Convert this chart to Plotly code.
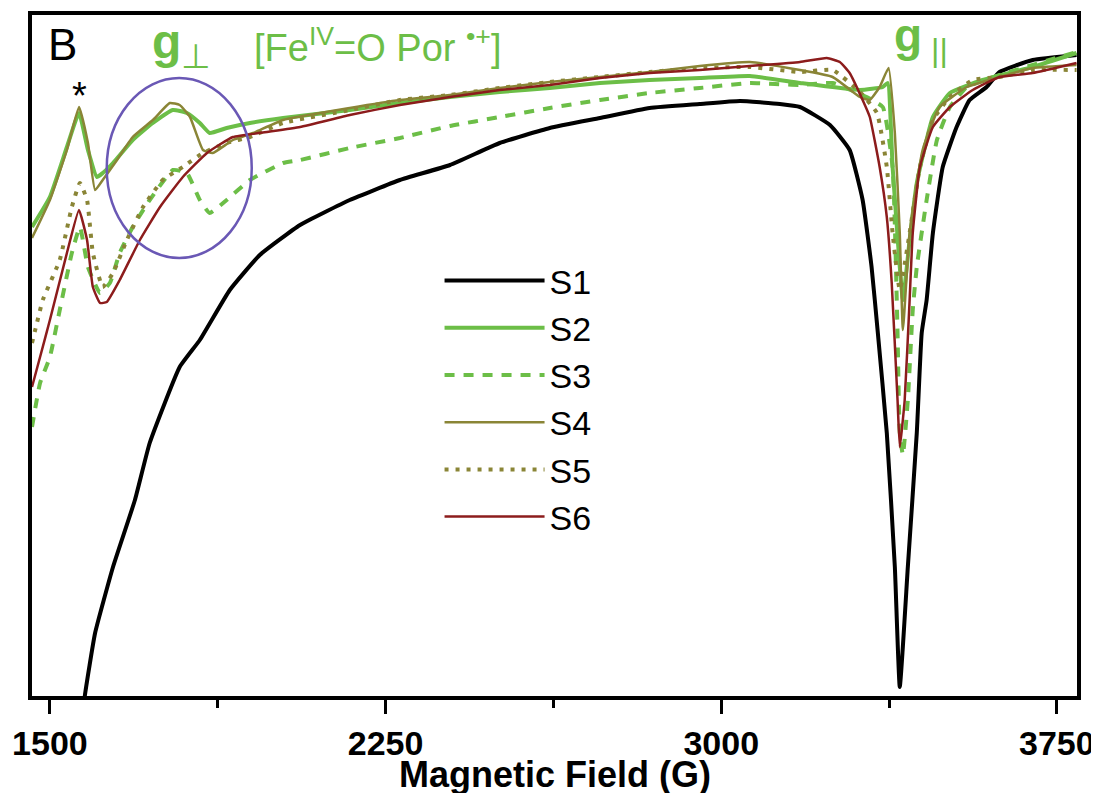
import plotly.graph_objects as go

# ---------------- data (Field in G, signal in arbitrary units) ----------------
s1_field = [1574, 1578, 1601, 1641, 1690, 1723, 1790, 1835, 1902, 1969, 2059, 2170, 2282, 2394,
            2505, 2617, 2729, 2840, 2952, 3042, 3131, 3176, 3243, 3287, 3316, 3336, 3350, 3370,
            3388, 3399, 3417, 3437, 3448, 3459, 3473, 3495, 3526, 3555, 3593, 3622, 3696, 3794]
s1_signal = [-20, 0, 63, 129, 196, 253, 329, 356, 406, 441, 471, 496, 516, 531,
             553, 568, 578, 588, 592, 595, 592, 589, 571, 546, 496, 429, 363, 263,
             129, 9, 129, 263, 363, 396, 463, 529, 569, 596, 609, 624, 636, 641]

s2_field = [1460, 1500, 1538, 1565, 1585, 1605, 1618, 1641, 1685, 1730, 1775, 1806, 1835, 1857,
            1895, 1947, 2021, 2170, 2282, 2394, 2505, 2617, 2729, 2840, 2952, 3064, 3176, 3310,
            3361, 3372, 3383, 3399, 3406, 3421, 3437, 3473, 3511, 3584, 3696, 3794]
s2_signal = [469, 499, 549, 583, 546, 519, 523, 533, 556, 573, 586, 583, 573, 563,
             568, 573, 578, 586, 593, 599, 604, 608, 613, 616, 618, 620, 613, 606,
             609, 613, 529, 429, 396, 456, 513, 579, 603, 616, 629, 643]

s3_field = [1460, 1478, 1500, 1522, 1549, 1567, 1585, 1612, 1634, 1656, 1685, 1723, 1775, 1806,
            1835, 1857, 1895, 1947, 2021, 2059, 2170, 2282, 2394, 2505, 2617, 2729, 2840, 2952,
            3064, 3176, 3249, 3325, 3361, 3383, 3394, 3399, 3406, 3417, 3428, 3437, 3459, 3482,
            3511, 3549, 3622, 3794]
s3_signal = [269, 313, 339, 386, 443, 469, 429, 403, 413, 443, 469, 496, 526, 523,
             496, 483, 496, 516, 533, 536, 548, 558, 570, 579, 588, 596, 603, 608,
             613, 611, 613, 599, 589, 529, 363, 263, 241, 296, 386, 429, 496, 556,
             589, 609, 621, 644]

s4_field = [1460, 1500, 1538, 1565, 1585, 1601, 1618, 1650, 1685, 1730, 1768, 1790, 1813, 1842,
            1864, 1909, 1954, 2021, 2170, 2282, 2394, 2505, 2617, 2729, 2840, 2952, 3064, 3176,
            3249, 3310, 3332, 3354, 3374, 3388, 3399, 3406, 3421, 3450, 3488, 3549, 3622, 3696, 3794]
s4_signal = [458, 496, 546, 589, 553, 506, 516, 536, 559, 576, 593, 591, 579, 546,
             543, 556, 563, 576, 588, 596, 601, 608, 614, 619, 624, 630, 634, 626,
             619, 599, 596, 609, 628, 563, 463, 366, 463, 546, 589, 609, 619, 628, 631]

s5_field = [1460, 1471, 1484, 1522, 1549, 1567, 1583, 1596, 1618, 1641, 1672, 1708, 1752, 1797,
            1842, 1895, 1947, 2021, 2170, 2282, 2394, 2505, 2617, 2729, 2840, 2952, 3064, 3176,
            3249, 3310, 3348, 3370, 3383, 3399, 3421, 3444, 3473, 3511, 3562, 3622, 3696, 3794]
s5_signal = [353, 373, 396, 436, 489, 513, 496, 443, 409, 423, 456, 489, 516, 529,
             543, 553, 559, 573, 586, 596, 601, 608, 614, 619, 624, 628, 629, 624,
             626, 604, 583, 529, 463, 406, 463, 529, 576, 599, 616, 619, 626, 626]

s6_field = [1460, 1478, 1500, 1538, 1565, 1583, 1596, 1612, 1627, 1656, 1701, 1746, 1797, 1851,
            1909, 1985, 2059, 2170, 2282, 2394, 2505, 2617, 2729, 2840, 2952, 3064, 3176, 3236,
            3265, 3287, 3316, 3332, 3354, 3370, 3381, 3394, 3399, 3410, 3421, 3428, 3444, 3473,
            3511, 3562, 3622, 3696, 3794]
s6_signal = [309, 339, 376, 443, 486, 456, 409, 393, 394, 416, 456, 489, 519, 543,
             559, 564, 569, 581, 591, 599, 606, 611, 618, 623, 626, 630, 634, 638,
             634, 623, 596, 579, 529, 479, 413, 296, 249, 296, 396, 463, 529, 569,
             589, 606, 619, 623, 633]

series_names = ["S1", "S2", "S3", "S4", "S5", "S6"]
tick_vals = [1500, 2250, 3000, 3750]
minor_tick_vals = [1875, 2625, 3375]

GREEN = "#6cbe47"
OLIVE = "#8a8536"
RED = "#8c1c1c"
PURPLE = "#6a58b5"

styles = [
    dict(color="black", width=4, dash="solid"),
    dict(color=GREEN, width=4, dash="solid"),
    dict(color=GREEN, width=4, dash="10px,9px"),
    dict(color=OLIVE, width=2.5, dash="solid"),
    dict(color=OLIVE, width=4, dash="4px,7px"),
    dict(color=RED, width=2.5, dash="solid"),
]
fields = [s1_field, s2_field, s3_field, s4_field, s5_field, s6_field]
signals = [s1_signal, s2_signal, s3_signal, s4_signal, s5_signal, s6_signal]

fig = go.Figure()
for name, fx, sy, st in zip(series_names, fields, signals, styles):
    fig.add_trace(go.Scatter(x=fx, y=sy, mode="lines", name=name,
                             line=dict(shape="spline", smoothing=0.4, **st)))

FONT = "Liberation Sans, Arial, sans-serif"

# the page body adds an 8 px offset, so margins are reduced by 8 on the left/top
fig.update_layout(
    width=1099, height=793,
    margin=dict(l=24, r=30, t=7, b=105, autoexpand=False),
    paper_bgcolor="white", plot_bgcolor="white",
    font=dict(family=FONT, color="black"),
    showlegend=True,
    legend=dict(x=0.39, y=0.652, xanchor="left", yanchor="top",
                bgcolor="rgba(0,0,0,0)", itemwidth=100,
                font=dict(family=FONT, size=34, color="black"),
                tracegroupgap=0),
    xaxis=dict(range=[1460, 3795], tickvals=tick_vals, ticktext=[str(v) for v in tick_vals],
               ticks="outside", ticklen=14, tickwidth=3, tickcolor="black",
               tickfont=dict(family=FONT, size=34, color="black", weight="bold"),
               minor=dict(tickvals=minor_tick_vals, ticks="outside", ticklen=8, tickwidth=3,
                          tickcolor="black"),
               showline=True, linewidth=4, linecolor="black", mirror=True,
               showgrid=False, zeroline=False, automargin=False),
    yaxis=dict(range=[0, 681], showticklabels=False, ticks="",
               showline=True, linewidth=4, linecolor="black", mirror=True,
               showgrid=False, zeroline=False, automargin=False),
)

# circle around g_perp feature
fig.add_shape(type="circle", xref="x", yref="y", x0=1627, x1=1951, y0=438, y1=618,
              line=dict(color=PURPLE, width=2.5))

annots = [
    dict(text="Magnetic Field (G)", x=0.5, y=-0.116, xref="paper", yref="paper",
         font=dict(size=36, weight="bold", color="black")),
    dict(text="B", x=0.029, y=0.956, xref="paper", yref="paper",
         font=dict(size=44, color="black")),
    dict(text="*", x=1567, y=600, xref="x", yref="y",
         font=dict(size=38, color="black")),
    dict(text="<b>g</b><sub>⊥</sub>", x=1793, y=651, xref="x", yref="y",
         font=dict(size=48, color=GREEN)),
    dict(text="[Fe<sup>IV</sup>=O Por <sup>•+</sup>]", x=2233, y=651, xref="x", yref="y",
         font=dict(size=38, color=GREEN)),
    dict(text="<b>g</b><sub> ||</sub>", x=3446, y=658, xref="x", yref="y",
         font=dict(size=46, color=GREEN)),
]
for a in annots:
    a.setdefault("showarrow", False)
    a["xanchor"] = "center"
    a["yanchor"] = "middle"
    a["font"].setdefault("family", FONT)
    fig.add_annotation(**a)

fig.write_html("out.html")
